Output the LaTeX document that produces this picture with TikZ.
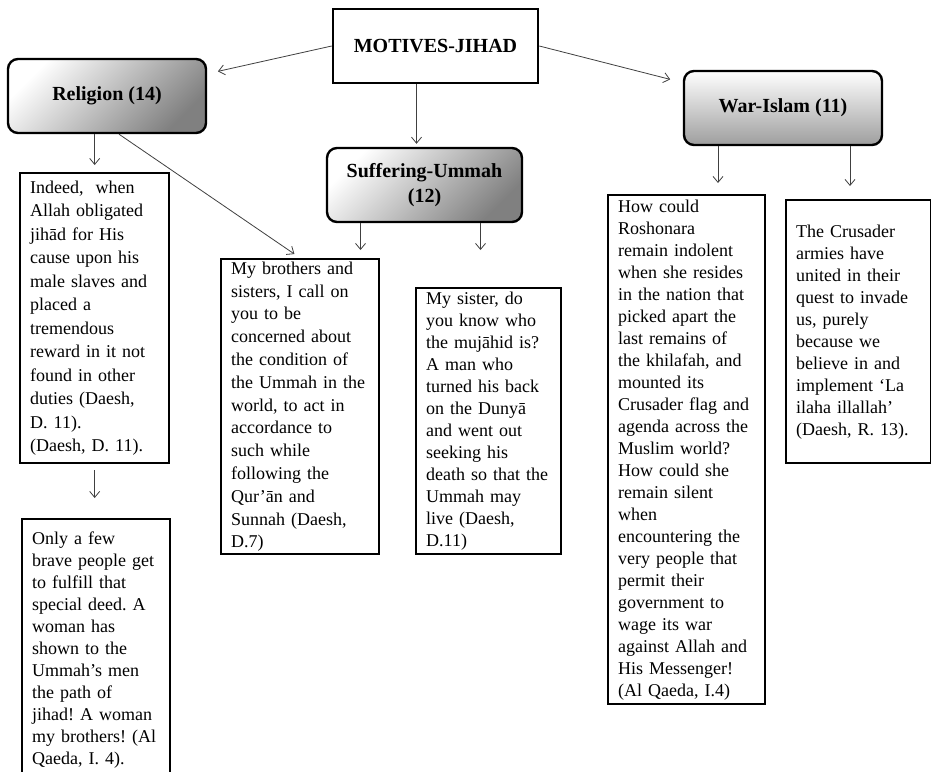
\documentclass[tikz,border=0pt]{standalone}
\usepackage{fontspec}
\setmainfont{Liberation Serif}
\usetikzlibrary{arrows.meta}
\frenchspacing

\begin{document}
\begin{tikzpicture}[x=1pt,y=-1pt,
  catbox/.style={draw, rounded corners=10pt, line width=2.4pt, top color=white, bottom color=black!50, shading angle=#1, align=center, font=\bfseries\fontsize{20}{25}\selectfont, minimum height=74pt},
  rootbox/.style={draw, line width=2.6pt, fill=white, font=\bfseries\fontsize{20}{25}\selectfont, minimum width=205pt, minimum height=74pt},
  quote/.style={draw, line width=2.4pt, fill=white, anchor=north west, align=left, inner xsep=10pt, inner ysep=1pt, text width=#1, font=\fontsize{18}{22}\selectfont},
  link/.style={draw=black!75, line width=0.8pt, -{Straight Barb[length=6pt,width=10pt]}}]
\path[use as bounding box, fill=white] (0,0) rectangle (931,771);

\node[rootbox] (motives) at (435.5,46) {MOTIVES-JIHAD};
\node[catbox=45, minimum width=198pt] (religion) at (107,96) {Religion (14)};
\node[catbox=-60, minimum width=198pt, bottom color=black!38] (war) at (783,108) {War-Islam (11)};
\node[catbox=45, minimum width=195pt] (suffer) at (424.5,185) {Suffering-Ummah\\(12)};

\node[quote=129pt, minimum height=290pt, font=\fontsize{18}{23.5}\selectfont] (duty) at (19,172) {Indeed,\ \ when\\Allah obligated\\jihād for His\\cause upon his\\male slaves and\\placed a\\tremendous\\reward in it not\\found in other\\duties (Daesh,\\D. 11).\\(Daesh, D. 11).};
\node[quote=128pt, minimum height=262pt] (brave) at (21,518) {Only a few\\brave people get\\to fulfill that\\special deed. A\\woman has\\shown to the\\Ummah’s men\\the path of\\jihad! A woman\\my brothers! (Al\\Qaeda, I. 4).};
\node[quote=138pt, minimum height=295pt, font=\fontsize{18}{22.8}\selectfont] (brothers) at (220,258) {My brothers and\\sisters, I call on\\you to be\\concerned about\\the condition of\\the Ummah in the\\world, to act in\\accordance to\\such while\\following the\\Qur’ān and\\Sunnah (Daesh,\\D.7)};
\node[quote=125pt, minimum height=266pt] (sister) at (415,287) {My sister, do\\you know who\\the mujāhid is?\\A man who\\turned his back\\on the Dunyā\\and went out\\seeking his\\death so that the\\Ummah may\\live (Daesh,\\D.11)};
\node[quote=137pt, minimum height=509pt] (roshonara) at (607,194) {How could\\Roshonara\\remain indolent\\when she resides\\in the nation that\\picked apart the\\last remains of\\the khilafah, and\\mounted its\\Crusader flag and\\agenda across the\\Muslim world?\\How could she\\remain silent\\when\\encountering the\\very people that\\permit their\\government to\\wage its war\\against Allah and\\His Messenger!\\(Al Qaeda, I.4)};
\node[quote=125pt, minimum height=263pt] (crusader) at (785,199) {The Crusader\\armies have\\united in their\\quest to invade\\us, purely\\because we\\believe in and\\implement ‘La\\ilaha illallah’\\(Daesh, R. 13).};

\draw[link, shorten >=11pt] (motives.west) -- (religion);
\draw[link, shorten >=13pt] (motives.east) -- (war);
\draw[link, shorten >=3pt] ([xshift=-19pt]motives.south) -- ([xshift=-19pt]motives.south |- suffer.north);
\draw[link, shorten >=7pt] (religion.south -| duty.north) -- (duty.north);
\draw[link, shorten >=7pt] ([xshift=12pt]religion.south) -- (brothers.north);
\draw[link, shorten <=6pt, shorten >=20pt] (duty.south) -- (duty.south |- brave.north);
\draw[link, shorten >=8pt] ([xshift=-64pt]suffer.south) -- ([xshift=-64pt]suffer.south |- brothers.north);
\draw[link, shorten >=37pt] ([xshift=56pt]suffer.south) -- ([xshift=56pt]suffer.south |- sister.north);
\draw[link, shorten >=11pt] ([xshift=-65pt]war.south) -- ([xshift=-65pt]war.south |- roshonara.north);
\draw[link, shorten >=13pt] ([xshift=67pt]war.south) -- ([xshift=67pt]war.south |- crusader.north);
\end{tikzpicture}
\end{document}
